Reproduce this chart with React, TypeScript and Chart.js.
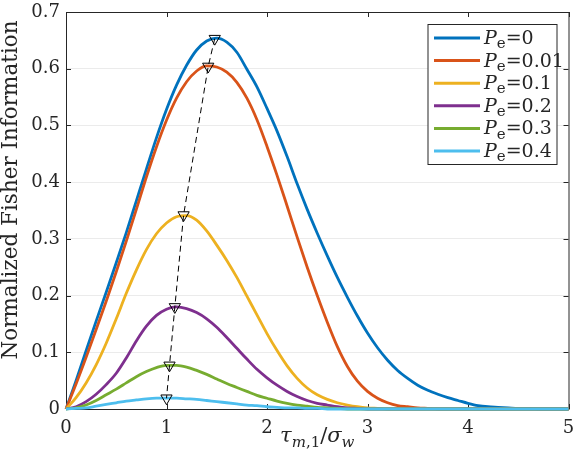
import React, { useEffect, useRef } from "react";
import { Chart, registerables } from "chart.js";

Chart.register(...registerables);

// tau_{m,1}/sigma_w sample points
const X = [
  0, 0.1, 0.2, 0.3, 0.4, 0.5, 0.6, 0.7, 0.8, 0.9, 1.0, 1.1, 1.2, 1.3, 1.4, 1.5, 1.6, 1.7, 1.8, 1.9, 2.0, 2.1, 2.2, 2.3,
  2.4, 2.5, 2.6, 2.7, 2.8, 2.9, 3.0, 3.1, 3.2, 3.3, 3.4, 3.5, 3.6, 3.7, 3.8, 3.9, 4.0, 4.1, 4.2, 4.3, 4.4, 4.5, 4.6, 4.7,
  4.8, 4.9, 5.0,
];

const PE0 = [
  0, 0.05, 0.103, 0.155, 0.206, 0.258, 0.311, 0.367, 0.423, 0.478, 0.528, 0.571, 0.606, 0.633, 0.649, 0.654, 0.647, 0.629,
  0.599, 0.568, 0.53, 0.49, 0.445, 0.397, 0.352, 0.31, 0.27, 0.232, 0.197, 0.164, 0.134, 0.108, 0.086, 0.068, 0.054,
  0.042, 0.033, 0.026, 0.02, 0.015, 0.01, 0.006, 0.004, 0.003, 0.002, 0.001, 0.001, 0, 0, 0, 0,
];
const PE001 = [
  0, 0.044, 0.091, 0.14, 0.19, 0.242, 0.296, 0.352, 0.409, 0.462, 0.509, 0.548, 0.577, 0.596, 0.605, 0.603, 0.594, 0.576,
  0.548, 0.51, 0.463, 0.412, 0.358, 0.303, 0.25, 0.2, 0.153, 0.11, 0.075, 0.049, 0.031, 0.019, 0.011, 0.006, 0.004,
  0.002, 0.001, 0, 0, 0, 0, 0, 0, 0, 0, 0, 0, 0, 0, 0, 0,
];
const PE01 = [
  0, 0.02, 0.046, 0.078, 0.116, 0.159, 0.204, 0.245, 0.281, 0.309, 0.328, 0.339, 0.341, 0.333, 0.314, 0.289, 0.262,
  0.232, 0.199, 0.166, 0.133, 0.103, 0.076, 0.054, 0.037, 0.025, 0.017, 0.011, 0.007, 0.004, 0.002, 0.001, 0, 0, 0, 0,
  0, 0, 0, 0, 0, 0, 0, 0, 0, 0, 0, 0, 0, 0, 0,
];
const PE02 = [
  0, 0.004, 0.013, 0.026, 0.043, 0.063, 0.09, 0.12, 0.146, 0.165, 0.176, 0.18, 0.177, 0.17, 0.159, 0.144, 0.126, 0.107,
  0.088, 0.07, 0.055, 0.042, 0.031, 0.022, 0.015, 0.01, 0.007, 0.004, 0.002, 0.001, 0, 0, 0, 0, 0, 0, 0, 0, 0, 0, 0, 0,
  0, 0, 0, 0, 0, 0, 0, 0, 0,
];
const PE03 = [
  0, 0.002, 0.007, 0.015, 0.025, 0.035, 0.046, 0.057, 0.066, 0.073, 0.077, 0.077, 0.074, 0.068, 0.061, 0.053, 0.045,
  0.038, 0.031, 0.024, 0.019, 0.014, 0.01, 0.007, 0.005, 0.003, 0.002, 0.001, 0, 0, 0, 0, 0, 0, 0, 0, 0, 0, 0, 0, 0, 0,
  0, 0, 0, 0, 0, 0, 0, 0, 0,
];
const PE04 = [
  0, 0.001, 0.002, 0.005, 0.008, 0.011, 0.014, 0.016, 0.018, 0.019, 0.019, 0.019, 0.018, 0.017, 0.015, 0.013, 0.011,
  0.009, 0.007, 0.006, 0.004, 0.003, 0.002, 0.002, 0.001, 0.001, 0, 0, 0, 0, 0, 0, 0, 0, 0, 0, 0, 0, 0, 0, 0, 0, 0, 0,
  0, 0, 0, 0, 0, 0, 0,
];

const SERIES = [PE0, PE001, PE01, PE02, PE03, PE04];
const PE_LABELS = ["0", "0.01", "0.1", "0.2", "0.3", "0.4"];
const COLORS = ["#0072BD", "#D95319", "#EDB120", "#7E2F8E", "#77AC30", "#4DBEEE"];

// maxima of each curve
const PEAK_X = [1.48, 1.415, 1.17, 1.083, 1.03, 1.0];
const PEAK_Y = [0.653, 0.604, 0.342, 0.18, 0.077, 0.019];

const FONT = "'DejaVu Serif', serif";
const INK = "#262626";

type Seg = { t: string; it?: boolean; sub?: boolean };

function drawRich(ctx: CanvasRenderingContext2D, segs: Seg[], x: number, y: number, size: number, subSize: number, align = "left") {
  const fontOf = (s: Seg) => `${s.it ? "italic " : ""}${s.sub ? subSize : size}px ${FONT}`;
  let total = 0;
  for (const s of segs) {
    ctx.font = fontOf(s);
    total += ctx.measureText(s.t).width;
  }
  let cx = align === "center" ? x - total / 2 : x;
  ctx.textAlign = "left";
  ctx.textBaseline = "alphabetic";
  for (const s of segs) {
    ctx.font = fontOf(s);
    ctx.fillText(s.t, cx, s.sub ? y + size * 0.22 : y);
    cx += ctx.measureText(s.t).width;
  }
}

const frame = {
  id: "frame",
  beforeDatasetsDraw(chart: any) {
    const { ctx, chartArea: a, scales } = chart;
    ctx.save();
    ctx.strokeStyle = INK;
    ctx.lineWidth = 1;
    ctx.strokeRect(a.left + 0.5, a.top + 0.5, a.right - a.left, a.bottom - a.top);
    const tl = 5;
    ctx.beginPath();
    scales.x.ticks.forEach((t: any) => {
      const px = Math.round(scales.x.getPixelForValue(t.value)) + 0.5;
      ctx.moveTo(px, a.bottom);
      ctx.lineTo(px, a.bottom - tl);
      ctx.moveTo(px, a.top);
      ctx.lineTo(px, a.top + tl);
    });
    scales.y.ticks.forEach((t: any) => {
      const py = Math.round(scales.y.getPixelForValue(t.value)) + 0.5;
      ctx.moveTo(a.left, py);
      ctx.lineTo(a.left + tl, py);
      ctx.moveTo(a.right, py);
      ctx.lineTo(a.right - tl, py);
    });
    ctx.stroke();
    ctx.restore();
  },
  afterDraw(chart: any) {
    const { ctx, chartArea: a } = chart;
    ctx.save();
    ctx.fillStyle = INK;

    // y title
    ctx.save();
    ctx.translate(11, 190);
    ctx.rotate(-Math.PI / 2);
    ctx.font = `21.5px ${FONT}`;
    ctx.textAlign = "center";
    ctx.textBaseline = "middle";
    ctx.fillText("Normalized Fisher Information", 0, 0);
    ctx.restore();

    // x title
    drawRich(
      ctx,
      [
        { t: "τ", it: true },
        { t: "m", it: true, sub: true },
        { t: ",1", sub: true },
        { t: "/" },
        { t: "σ", it: true },
        { t: "w", it: true, sub: true },
      ],
      (a.left + a.right) / 2,
      a.bottom + 33,
      21,
      15,
      "center"
    );

    // legend
    const bx = a.right - 140.5;
    const by = a.top + 12.5;
    const bw = 129;
    const bh = 140;
    ctx.fillStyle = "#ffffff";
    ctx.fillRect(bx, by, bw, bh);
    ctx.strokeStyle = INK;
    ctx.lineWidth = 1;
    ctx.strokeRect(bx, by, bw, bh);
    PE_LABELS.forEach((lab, i) => {
      const cy = by + 13.5 + i * 22.6;
      ctx.strokeStyle = COLORS[i];
      ctx.lineWidth = 3;
      ctx.beginPath();
      ctx.moveTo(bx + 6, cy);
      ctx.lineTo(bx + 52, cy);
      ctx.stroke();
      ctx.fillStyle = INK;
      drawRich(ctx, [{ t: "P", it: true }, { t: "e", sub: true }, { t: "=" + lab }], bx + 56, cy + 6, 19, 15);
    });
    ctx.restore();
  },
};

const App = () => {
  const chartRef = useRef<HTMLCanvasElement | null>(null);
  const chartInstance = useRef<any>(null);

  useEffect(() => {
    document.body.style.margin = "0";
    if (!chartRef.current) return;
    if (chartInstance.current) chartInstance.current.destroy();

    const curves = SERIES.map((s, i) => ({
      label: "Pe=" + PE_LABELS[i],
      data: X.map((x, j) => ({ x, y: s[j] })),
      borderColor: COLORS[i],
      backgroundColor: COLORS[i],
      borderWidth: 2.8,
      pointRadius: 0,
      cubicInterpolationMode: "monotone" as const,
      clip: false as any,
      order: 10 - i,
    }));

    const peaks = {
      label: "peaks",
      data: PEAK_X.map((x, i) => ({ x, y: PEAK_Y[i] })),
      borderColor: "#000000",
      borderWidth: 1,
      borderDash: [6, 4],
      pointStyle: "triangle" as const,
      rotation: 180,
      pointRadius: 6.5,
      pointBorderColor: "#000000",
      pointBackgroundColor: "rgba(0,0,0,0)",
      pointBorderWidth: 1,
      tension: 0,
      order: 0,
    };

    chartInstance.current = new Chart(chartRef.current, {
      type: "line",
      data: { datasets: [...curves, peaks] as any },
      options: {
        responsive: false,
        animation: false,
        layout: { padding: { top: 12, right: 7, left: 0, bottom: 0 } },
        plugins: { legend: { display: false }, tooltip: { enabled: false } },
        scales: {
          x: {
            type: "linear",
            min: 0,
            max: 5,
            ticks: { stepSize: 1, color: INK, font: { family: FONT, size: 18 }, padding: 9 },
            grid: { display: false, drawTicks: false },
            border: { display: false },
            afterFit: (s: any) => {
              s.height = 49;
              s.paddingLeft = 0;
              s.paddingRight = 0;
            },
          },
          y: {
            type: "linear",
            min: 0,
            max: 0.7,
            ticks: { stepSize: 0.1, color: INK, font: { family: FONT, size: 18 }, padding: 6 },
            grid: { color: "#ebebeb", drawTicks: false, lineWidth: 1 },
            border: { display: false },
            afterFit: (s: any) => {
              s.width = 66;
              s.paddingTop = 0;
              s.paddingBottom = 0;
            },
          },
        },
      },
      plugins: [frame],
    });

    return () => {
      if (chartInstance.current) {
        chartInstance.current.destroy();
        chartInstance.current = null;
      }
    };
  }, []);

  return <canvas ref={chartRef} width={576} height={458} />;
};

export default App;
